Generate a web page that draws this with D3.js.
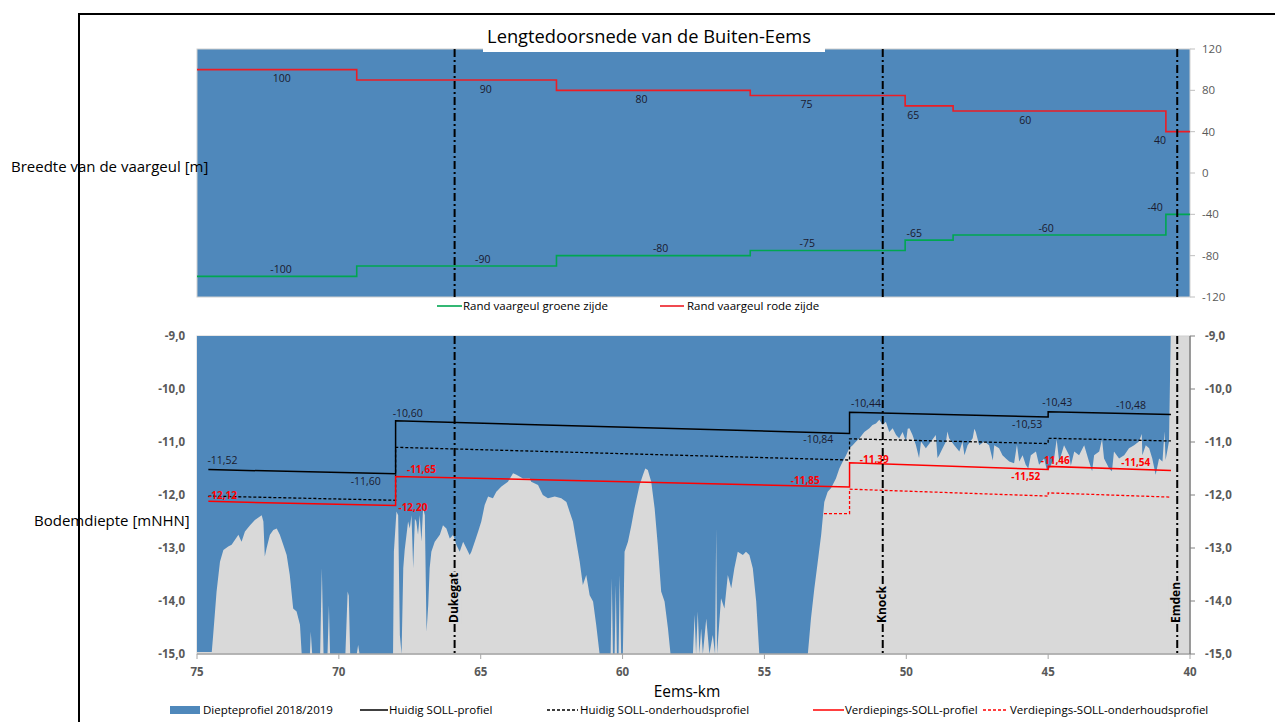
<!DOCTYPE html>
<html><head><meta charset="utf-8">
<script src="https://cdn.jsdelivr.net/npm/d3@7"></script>
<style>body{margin:0;background:#fff} svg{display:block} text{font-family:"Open Sans",sans-serif}</style>
</head><body><svg id="c" width="1275" height="722"></svg>
<script>
// ---------- DATA ----------
const kmTicks = [75, 70, 65, 60, 55, 50, 45, 40];
const widthTicks = [120, 80, 40, 0, -40, -80, -120];
const depthTicks = [-9, -10, -11, -12, -13, -14, -15];

// Top panel: channel edge (stepped)
const widthBreaksKm = [75, 69.37, 62.33, 55.5, 50.04, 48.35, 40.85, 40];
const redSide   = [100, 90, 80, 75, 65, 60, 40];
const greenSide = [-100, -90, -80, -75, -65, -60, -40];
const redLabelKm   = [72.01, 64.82, 59.33, 53.52, 49.75, 45.81, 41.06];
const greenLabelKm = [72.04, 64.93, 58.66, 53.49, 49.72, 45.07, 41.23];

const landmarks = [
  {name: "Dukegat", km: 65.92},
  {name: "Knock", km: 50.83},
  {name: "Emden", km: 40.45}
];

// Bottom panel: SOLL profiles [km, mNHN]
const huidigSoll = [[74.6,-11.52],[68.0,-11.60],[68.0,-10.60],[52.0,-10.84],[52.0,-10.44],[45.0,-10.53],[45.0,-10.43],[40.67,-10.48]];
const huidigOnderhoud = [[74.6,-12.02],[68.0,-12.10],[68.0,-11.10],[52.0,-11.34],[52.0,-10.94],[45.0,-11.03],[45.0,-10.93],[40.67,-10.98]];
const verdiepSoll = [[74.6,-12.12],[68.0,-12.20],[68.0,-11.65],[52.0,-11.85],[52.0,-11.39],[45.0,-11.52],[45.0,-11.46],[40.67,-11.54]];
const verdiepOnderhoud = [[52.9,-12.35],[52.0,-12.35],[52.0,-11.89],[45.0,-12.02],[45.0,-11.96],[40.67,-12.04]];

const blackLabels = [[74.10,-11.35,"-11,52"],[69.05,-11.74,"-11,60"],[67.57,-10.46,"-10,60"],[53.10,-10.95,"-10,84"],[51.42,-10.27,"-10,44"],[45.74,-10.67,"-10,53"],[44.68,-10.25,"-10,43"],[42.08,-10.30,"-10,48"]];
const redLabels = [[74.10,-12.00,"-12,12"],[67.39,-12.23,"-12,20"],[67.09,-11.52,"-11,65"],[53.56,-11.73,"-11,85"],[51.13,-11.33,"-11,39"],[45.79,-11.65,"-11,52"],[44.75,-11.34,"-11,46"],[41.91,-11.39,"-11,54"]];

// Depth profile 2018/2019 [km, bed level mNHN] (values below -15 are off-scale)
const depthProfile = [
[75.00,-14.96],[74.48,-14.96],[74.43,-14.64],[74.31,-13.82],[74.19,-13.26],[74.07,-13.04],[73.90,-12.97],[73.78,-12.94],
[73.54,-12.75],[73.43,-12.88],[73.31,-12.69],[73.13,-12.57],[72.96,-12.47],[72.72,-12.38],[72.66,-12.50],[72.61,-13.16],
[72.55,-13.01],[72.43,-12.75],[72.31,-12.66],[72.19,-12.63],[72.08,-12.75],[71.96,-12.94],[71.84,-13.13],[71.73,-13.51],
[71.61,-14.14],[71.49,-14.20],[71.37,-14.45],[71.31,-15.5],[71.02,-15.5],[70.99,-14.58],[70.94,-15.5],[70.66,-15.5],
[70.60,-13.38],[70.54,-15.5],[70.40,-15.5],[70.35,-14.08],[70.31,-15.5],[69.77,-15.5],[69.69,-13.82],[69.65,-13.90],
[69.60,-15.5],[69.37,-15.5],[69.32,-14.83],[69.27,-15.5],[68.09,-15.5],[68.06,-13.07],[67.97,-12.31],[67.91,-12.38],
[67.85,-14.64],[67.79,-15.5],[67.73,-13.38],[67.68,-13.04],[67.56,-12.50],[67.50,-12.63],[67.44,-12.38],[67.38,-13.38],
[67.32,-12.45],[67.27,-12.50],[67.21,-12.75],[67.15,-12.38],[67.09,-12.88],[67.03,-12.25],[66.97,-12.38],[66.91,-14.58],
[66.85,-14.08],[66.80,-13.38],[66.74,-13.07],[66.62,-12.88],[66.44,-12.75],[66.33,-12.57],[66.21,-12.63],[66.09,-12.82],
[65.97,-12.75],[65.86,-12.94],[65.74,-13.07],[65.62,-12.88],[65.50,-13.01],[65.39,-13.13],[65.33,-13.07],[65.21,-12.88],
[65.09,-12.69],[64.98,-12.50],[64.86,-12.19],[64.74,-12.03],[64.57,-12.06],[64.45,-11.94],[64.27,-11.84],[64.04,-11.75],
[63.86,-11.59],[63.74,-11.62],[63.51,-11.69],[63.27,-11.69],[63.22,-11.75],[62.98,-11.81],[62.81,-12.00],[62.63,-12.06],
[62.39,-12.03],[62.16,-12.06],[61.98,-12.13],[61.87,-12.31],[61.75,-12.50],[61.63,-12.88],[61.51,-13.26],[61.40,-13.70],
[61.28,-13.51],[61.16,-13.89],[61.04,-14.01],[60.93,-14.45],[60.81,-15.5],[60.42,-15.5],[60.38,-13.57],[60.34,-15.5],
[60.28,-15.5],[60.24,-13.70],[60.20,-15.5],[60.14,-15.5],[60.10,-13.51],[60.05,-15.5],[59.99,-15.5],[59.93,-13.07],
[59.81,-12.88],[59.69,-12.57],[59.58,-12.25],[59.40,-11.81],[59.28,-11.62],[59.20,-11.50],[59.11,-11.53],[58.99,-11.75],
[58.87,-12.25],[58.76,-12.94],[58.64,-13.82],[58.52,-14.01],[58.40,-14.52],[58.31,-15.5],[57.52,-15.5],[57.46,-14.26],
[57.41,-15.5],[57.35,-14.20],[57.29,-15.5],[57.23,-14.52],[57.17,-15.5],[57.05,-14.33],[56.94,-15.5],[56.82,-14.64],
[56.74,-15.5],[56.70,-12.63],[56.67,-15.0],[56.53,-13.95],[56.41,-14.14],[56.29,-13.51],[56.17,-13.76],[56.06,-13.38],
[55.94,-13.07],[55.76,-13.13],[55.65,-13.07],[55.53,-13.13],[55.41,-13.38],[55.29,-14.01],[55.18,-15.5],[53.47,-15.5],
[53.36,-14.33],[53.24,-13.76],[53.12,-13.26],[53.00,-12.75],[52.89,-12.13],[52.77,-11.94],[52.65,-11.87],[52.48,-11.69],
[52.36,-11.50],[52.24,-11.37],[52.12,-11.25],[52.01,-11.12],[51.89,-11.06],[51.77,-10.99],[51.65,-10.93],[51.48,-10.81],
[51.30,-10.74],[51.19,-10.68],[51.07,-10.65],[50.95,-10.58],[50.83,-10.68],[50.72,-10.62],[50.60,-10.81],[50.48,-10.74],
[50.36,-10.87],[50.25,-10.93],[50.13,-10.81],[50.01,-10.99],[49.95,-10.75],[49.89,-10.74],[49.78,-10.87],[49.66,-11.06],
[49.55,-11.30],[49.48,-10.99],[49.31,-11.12],[49.13,-10.99],[48.96,-10.87],[48.90,-11.30],[48.84,-11.25],[48.72,-11.12],
[48.60,-10.99],[48.55,-10.80],[48.49,-10.93],[48.31,-11.06],[48.13,-11.18],[48.02,-10.99],[47.95,-11.25],[47.84,-11.06],
[47.66,-10.93],[47.60,-10.75],[47.55,-10.81],[47.43,-11.06],[47.25,-10.99],[47.08,-11.06],[46.95,-11.35],[46.90,-11.06],
[46.73,-11.12],[46.61,-11.25],[46.49,-11.31],[46.37,-11.37],[46.20,-11.40],[46.10,-11.05],[46.02,-11.37],[45.90,-11.25],
[45.79,-11.43],[45.70,-11.50],[45.61,-11.25],[45.43,-11.18],[45.32,-11.43],[45.14,-11.31],[45.05,-11.52],[44.96,-11.50],
[44.79,-11.31],[44.70,-10.95],[44.61,-11.37],[44.44,-11.06],[44.26,-11.25],[44.20,-11.45],[44.08,-11.18],[43.91,-11.25],
[43.73,-11.06],[43.56,-11.37],[43.45,-11.55],[43.38,-11.25],[43.20,-11.18],[43.10,-10.95],[43.03,-11.31],[42.85,-11.50],
[42.75,-11.55],[42.68,-11.18],[42.50,-11.31],[42.32,-11.25],[42.15,-11.12],[41.97,-11.06],[41.80,-10.99],[41.70,-10.85],
[41.68,-11.25],[41.56,-11.06],[41.44,-11.12],[41.33,-11.31],[41.21,-11.62],[41.09,-11.31],[40.97,-11.37],[40.90,-10.80],
[40.86,-11.34],[40.74,-10.99],[40.68,-8.5],[40.00,-8.5]
];

// ---------- DRAWING ----------
const svg = d3.select("#c");
const BLUE = "#4f88bb", GRAY = "#d9d9d9", RED = "#ff0000", GREEN = "#00a651";
const L = 197, R = 1190;
const x = d3.scaleLinear().domain([75, 40]).range([L, R]);
const yTop = d3.scaleLinear().domain([-120, 120]).range([297, 49]);
const yBot = d3.scaleLinear().domain([-15, -9]).range([654, 336]);
const fmt = v => d3.format(".1f")(v).replace(".", ",").replace("−","-");

// outer frame
svg.append("path").attr("d", "M79,722V14H1275").attr("fill", "none").attr("stroke", "#000").attr("stroke-width", 2);

// ===== TOP PANEL =====
svg.append("rect").attr("x", L).attr("y", yTop(120)).attr("width", R - L).attr("height", yTop(-120) - yTop(120))
  .attr("fill", BLUE).attr("stroke", "#d0d0d0").attr("stroke-width", 1);

const stepLine = d3.line().x(d => x(d[0])).y(d => yTop(d[1])).curve(d3.curveStepAfter);
function stepPts(vals) { return widthBreaksKm.map((k, i) => [k, vals[Math.min(i, vals.length - 1)]]); }
svg.append("path").attr("d", stepLine(stepPts(redSide))).attr("fill", "none").attr("stroke", "#ed1c24").attr("stroke-width", 1.6);
svg.append("path").attr("d", stepLine(stepPts(greenSide))).attr("fill", "none").attr("stroke", GREEN).attr("stroke-width", 1.6);

redSide.forEach((v, i) => {
  svg.append("text").attr("x", x(redLabelKm[i])).attr("y", yTop(v) + 9).attr("dy", "0.35em")
    .attr("text-anchor", "middle").attr("font-size", 10.5).attr("fill", "#1a1a2e").text(v);
});
greenSide.forEach((v, i) => {
  svg.append("text").attr("x", x(greenLabelKm[i])).attr("y", yTop(v) - 7).attr("dy", "0.35em")
    .attr("text-anchor", "middle").attr("font-size", 10.5).attr("fill", "#1a1a2e").text(v);
});

// right axis top
widthTicks.forEach(t => {
  svg.append("line").attr("x1", R).attr("x2", R + 5).attr("y1", yTop(t)).attr("y2", yTop(t)).attr("stroke", "#bfbfbf");
  svg.append("text").attr("x", 1202).attr("y", yTop(t)).attr("dy", "0.35em").attr("font-size", 11.5)
    .attr("fill", "#595959").text(t);
});

// legend top
svg.append("line").attr("x1", 437).attr("x2", 462).attr("y1", 306).attr("y2", 306).attr("stroke", GREEN).attr("stroke-width", 1.6);
svg.append("text").attr("x", 463).attr("y", 306).attr("dy", "0.35em").attr("font-size", 11.5).text("Rand vaargeul groene zijde");
svg.append("line").attr("x1", 660).attr("x2", 684).attr("y1", 306).attr("y2", 306).attr("stroke", "#ed1c24").attr("stroke-width", 1.6);
svg.append("text").attr("x", 687).attr("y", 306).attr("dy", "0.35em").attr("font-size", 11.5).text("Rand vaargeul rode zijde");

// ===== BOTTOM PANEL =====
svg.append("rect").attr("x", L).attr("y", yBot(-9)).attr("width", R - L).attr("height", yBot(-15) - yBot(-9))
  .attr("fill", GRAY).attr("stroke", "#d0d0d0");
svg.append("clipPath").attr("id", "clipB").append("rect").attr("x", L).attr("y", yBot(-9)).attr("width", R - L).attr("height", yBot(-15) - yBot(-9));

const clampD = v => Math.max(-15, Math.min(-9, v));
const area = d3.area().x(d => x(d[0])).y0(yBot(-9)).y1(d => yBot(clampD(d[1])));
const sortedProfile = depthProfile.slice().sort((a, b) => b[0] - a[0]);
svg.append("path").attr("clip-path", "url(#clipB)").attr("d", area(sortedProfile)).attr("fill", BLUE);

const lin = d3.line().x(d => x(d[0])).y(d => yBot(d[1]));
const g = svg.append("g").attr("clip-path", "url(#clipB)");
g.append("path").attr("d", lin(huidigOnderhoud)).attr("fill", "none").attr("stroke", "#000").attr("stroke-width", 1.3).attr("stroke-dasharray", "3,2");
g.append("path").attr("d", lin(verdiepOnderhoud)).attr("fill", "none").attr("stroke", RED).attr("stroke-width", 1.3).attr("stroke-dasharray", "3,2");
g.append("path").attr("d", lin(huidigSoll)).attr("fill", "none").attr("stroke", "#000").attr("stroke-width", 1.5);
g.append("path").attr("d", lin(verdiepSoll)).attr("fill", "none").attr("stroke", RED).attr("stroke-width", 1.5);

blackLabels.forEach(d => {
  svg.append("text").attr("x", x(d[0])).attr("y", yBot(d[1])).attr("dy", "0.35em").attr("text-anchor", "middle")
    .attr("font-size", 10.5).attr("fill", "#1a1a2e").text(d[2]);
});
redLabels.forEach(d => {
  svg.append("text").attr("x", x(d[0])).attr("y", yBot(d[1])).attr("dy", "0.35em").attr("text-anchor", "middle")
    .attr("font-size", 10).attr("font-weight", "bold").attr("fill", RED).text(d[2]);
});

// axes bottom
svg.append("line").attr("x1", L).attr("x2", R).attr("y1", yBot(-15)).attr("y2", yBot(-15)).attr("stroke", "#a6a6a6").attr("stroke-width", 1.3);
kmTicks.forEach(t => {
  svg.append("line").attr("x1", x(t)).attr("x2", x(t)).attr("y1", yBot(-15)).attr("y2", yBot(-15) + 5).attr("stroke", "#a6a6a6");
  svg.append("text").attr("x", x(t)).attr("y", 672).attr("dy", "0.35em").attr("text-anchor", "middle")
    .attr("font-size", 11.5).attr("font-weight", "bold").attr("fill", "#595959").text(t);
});
svg.append("line").attr("x1", R).attr("x2", R).attr("y1", yBot(-9)).attr("y2", yBot(-15)).attr("stroke", "#808080").attr("stroke-width", 1.5);
depthTicks.forEach(t => {
  svg.append("line").attr("x1", R).attr("x2", R + 5).attr("y1", yBot(t)).attr("y2", yBot(t)).attr("stroke", "#808080");
  svg.append("text").attr("x", 185).attr("y", yBot(t)).attr("dy", "0.35em").attr("text-anchor", "end")
    .attr("font-size", 11.5).attr("font-weight", "bold").attr("fill", "#595959").text(fmt(t));
  svg.append("text").attr("x", 1205).attr("y", yBot(t)).attr("dy", "0.35em")
    .attr("font-size", 11.5).attr("font-weight", "bold").attr("fill", "#595959").text(fmt(t));
});

// landmark lines (both panels) with labels covering the line
landmarks.forEach(m => {
  const lx = x(m.km);
  [[yTop(120), yTop(-120)], [yBot(-9), yBot(-15)]].forEach(r => {
    svg.append("line").attr("x1", lx).attr("x2", lx).attr("y1", r[0]).attr("y2", r[1])
      .attr("stroke", "#000").attr("stroke-width", 2).attr("stroke-dasharray", "8,3,2,3");
  });
  const lg = svg.append("g").attr("transform", `translate(${lx + 3},623) rotate(-90)`);
  const bg = lg.append("rect").attr("fill", GRAY);
  const t = lg.append("text").attr("font-size", 12).attr("font-weight", "bold").attr("fill", "#000").text(m.name);
  const bb = t.node().getBBox();
  bg.attr("x", bb.x - 1).attr("y", bb.y + 1).attr("width", bb.width + 2).attr("height", bb.height - 1);
});

// titles
svg.append("rect").attr("x", 483).attr("y", 20).attr("width", 342).attr("height", 32).attr("fill", "#fff");
svg.append("text").attr("x", 649).attr("y", 43).attr("text-anchor", "middle").attr("font-size", 18.3).text("Lengtedoorsnede van de Buiten-Eems");
svg.append("text").attr("x", 11).attr("y", 172).attr("font-size", 15).text("Breedte van de vaargeul [m]");
svg.append("text").attr("x", 34).attr("y", 526).attr("font-size", 15).text("Bodemdiepte [mNHN]");
svg.append("text").attr("x", 687).attr("y", 697).attr("text-anchor", "middle").attr("font-size", 15.5).text("Eems-km");

// bottom legend
const ly = 710;
svg.append("rect").attr("x", 170).attr("y", ly - 4).attr("width", 30).attr("height", 8).attr("fill", BLUE);
svg.append("text").attr("x", 203).attr("y", ly).attr("dy", "0.35em").attr("font-size", 11.5).text("Diepteprofiel 2018/2019");
svg.append("line").attr("x1", 360).attr("x2", 388).attr("y1", ly).attr("y2", ly).attr("stroke", "#000").attr("stroke-width", 1.5);
svg.append("text").attr("x", 389).attr("y", ly).attr("dy", "0.35em").attr("font-size", 11.5).text("Huidig SOLL-profiel");
svg.append("line").attr("x1", 547).attr("x2", 578).attr("y1", ly).attr("y2", ly).attr("stroke", "#000").attr("stroke-width", 1.3).attr("stroke-dasharray", "3,2");
svg.append("text").attr("x", 580).attr("y", ly).attr("dy", "0.35em").attr("font-size", 11.5).text("Huidig SOLL-onderhoudsprofiel");
svg.append("line").attr("x1", 813).attr("x2", 844).attr("y1", ly).attr("y2", ly).attr("stroke", RED).attr("stroke-width", 1.5);
svg.append("text").attr("x", 845).attr("y", ly).attr("dy", "0.35em").attr("font-size", 11.5).text("Verdiepings-SOLL-profiel");
svg.append("line").attr("x1", 983).attr("x2", 1008).attr("y1", ly).attr("y2", ly).attr("stroke", RED).attr("stroke-width", 1.3).attr("stroke-dasharray", "3,2");
svg.append("text").attr("x", 1010).attr("y", ly).attr("dy", "0.35em").attr("font-size", 11.5).text("Verdiepings-SOLL-onderhoudsprofiel");
</script></body></html>
